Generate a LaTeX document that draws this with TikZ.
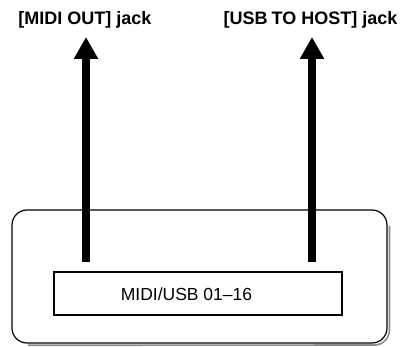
\documentclass[tikz,border=0pt]{standalone}
\usepackage{fontspec}
\setmainfont{Liberation Sans}
\usetikzlibrary{arrows.meta}
\begin{document}
\begin{tikzpicture}[x=1pt,y=-1pt,
  lbl/.style={font=\fontsize{18}{20}\selectfont\bfseries, inner sep=0pt},
  bigarrow/.style={line width=7.5pt, -{Triangle[width=23pt,length=22pt]}},
  shadowline/.style={draw=black!45, line width=1.6pt}]
\useasboundingbox (0,0) rectangle (405,347);
% outer rounded panel with shadow
\draw[shadowline] (389.5,226) -- (389.5,330) arc[start angle=0,end angle=90,radius=15] -- (28,345.3);
\node (panel) [draw, line width=1.2pt, rounded corners=15pt, minimum width=375pt, minimum height=133pt, inner sep=0pt] at (199.5,276.5) {};
\node (inner) [draw, line width=1.1pt, minimum width=288pt, minimum height=43pt, inner sep=0pt] at (198,293.5) {};
\node (txt) [font=\fontsize{17.5}{19}\selectfont, inner sep=0pt] at (186.5,294) {MIDI/USB 01--16};
% labels
\node (l1) [lbl] at (85,20) {[MIDI OUT] jack};
\node (l2) [lbl] at (310.5,20) {[USB\kern-1pt{} TO HOST] jack};
\coordinate (s1) at (86,262);
\coordinate (t1) at (86,37);
\coordinate (s2) at (312,262);
\coordinate (t2) at (312,37);
\draw[bigarrow] (s1) -- (t1);
\draw[bigarrow] (s2) -- (t2);
\end{tikzpicture}
\end{document}
